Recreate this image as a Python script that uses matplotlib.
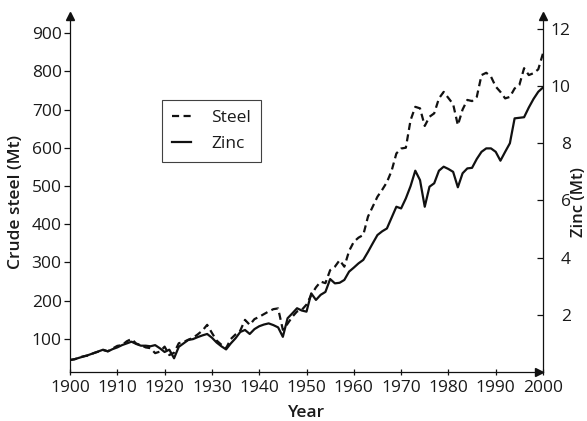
import matplotlib
matplotlib.use("Agg")
import matplotlib.pyplot as plt
from matplotlib import transforms

# World production, 1900-2000
years = list(range(1900, 2001))

steel_mt = [
    45, 47, 52, 55, 57, 63, 67, 71, 68, 75,          # 1900-1909
    82, 84, 94, 100, 88, 84, 78, 76, 63, 67,         # 1910-1919
    80, 58, 64, 89, 92, 98, 103, 112, 122, 137,      # 1920-1929
    116, 96, 85, 76, 100, 112, 122, 150, 137, 152,   # 1930-1939
    158, 165, 172, 178, 180, 124, 140, 158, 172, 176,  # 1940-1949
    190, 215, 235, 250, 246, 280, 289, 306, 289, 330,  # 1950-1959
    354, 365, 372, 420, 446, 472, 490, 510, 540, 585,  # 1960-1969
    598, 600, 672, 707, 703, 657, 681, 690, 729, 746,  # 1970-1979
    730, 714, 659, 700, 725, 722, 733, 790, 796, 786,  # 1980-1989
    760, 746, 729, 733, 755, 764, 808, 790, 795, 805,  # 1990-1999
    847,                                               # 2000
]

zinc_mt = [
    0.42, 0.45, 0.50, 0.55, 0.60, 0.66, 0.72, 0.78, 0.72, 0.80,   # 1900-1909
    0.86, 0.94, 1.00, 1.06, 0.98, 0.92, 0.92, 0.90, 0.94, 0.83,   # 1910-1919
    0.70, 0.78, 0.48, 0.88, 1.00, 1.12, 1.15, 1.22, 1.28, 1.33,   # 1920-1929
    1.20, 1.03, 0.90, 0.79, 1.00, 1.18, 1.40, 1.47, 1.33, 1.50,   # 1930-1939
    1.60, 1.66, 1.70, 1.64, 1.56, 1.23, 1.88, 2.05, 2.23, 2.15,   # 1940-1949
    2.11, 2.75, 2.52, 2.70, 2.80, 3.25, 3.10, 3.12, 3.22, 3.51,   # 1950-1959
    3.65, 3.80, 3.92, 4.20, 4.50, 4.79, 4.92, 5.02, 5.40, 5.78,   # 1960-1969
    5.72, 6.07, 6.50, 7.04, 6.71, 5.78, 6.48, 6.60, 7.04, 7.18,   # 1970-1979
    7.10, 7.00, 6.46, 6.95, 7.12, 7.14, 7.45, 7.70, 7.82, 7.82,   # 1980-1989
    7.70, 7.39, 7.70, 8.00, 8.87, 8.89, 8.91, 9.25, 9.55, 9.80,   # 1990-1999
    9.95,                                                          # 2000
]

year_ticks = list(range(1900, 2001, 10))
steel_ticks = [100, 200, 300, 400, 500, 600, 700, 800, 900]
zinc_ticks = [2, 4, 6, 8, 10, 12]

plt.rcParams["font.family"] = ["Open Sans", "DejaVu Sans"]
INK = "#111111"
TXT = "#1a1a1a"

fig = plt.figure(figsize=(5.87, 4.21), dpi=100)
W, H = 587, 421
x0, x1, y_bot, y_top = 70, 543, 372, 20
ax = fig.add_axes([x0 / W, 1 - y_bot / H, (x1 - x0) / W, (y_bot - y_top) / H])
ax2 = ax.twinx()

lw = 1.6
l_steel, = ax.plot(years, steel_mt, color=INK, lw=lw, dashes=(3.2, 2.0),
                   label="Steel")
l_zinc, = ax2.plot(years, zinc_mt, color=INK, lw=lw, label="Zinc")

ax.set_xlim(1900, 2000)
ax.set_ylim(13.7, 934)
ax2.set_ylim(0, 12.31)

ax.set_xticks(year_ticks)
ax.set_yticks(steel_ticks)
ax2.set_yticks(zinc_ticks)

fs = 12.5
ax.tick_params(axis="x", direction="inout", length=5, width=0.9, colors=INK,
               labelsize=fs, labelcolor=TXT, pad=3)
ax.tick_params(axis="y", direction="out", length=4, width=0.9, colors=INK,
               labelsize=fs, labelcolor=TXT, pad=2)
ax2.tick_params(axis="y", direction="in", length=4, width=0.9, colors=INK,
                labelsize=fs, labelcolor=TXT, pad=20)
for t in ax2.get_yticklabels():
    t.set_horizontalalignment("right")

for a in (ax, ax2):
    for s in a.spines.values():
        s.set_linewidth(0.9)
        s.set_color(INK)
ax.spines["top"].set_visible(False)
ax.spines["right"].set_visible(False)
ax2.spines["top"].set_visible(False)
ax2.spines["left"].set_visible(False)
ax2.spines["bottom"].set_visible(False)

# arrow heads on the axis lines
up = transforms.offset_copy(ax.transAxes, fig=fig, y=4, units="dots")
ax.plot([0, 1], [1, 1], ls="none", marker="^", ms=6, color=INK,
        transform=up, clip_on=False)
right = transforms.offset_copy(ax.transAxes, fig=fig, x=-4, units="dots")
ax.plot([1], [0], ls="none", marker=">", ms=6, color=INK,
        transform=right, clip_on=False)

fig.text(8 / W, 1 - 202 / H, "Crude steel (Mt)", rotation=90, ha="left",
         va="center", fontsize=fs, fontweight="semibold", color=TXT)
fig.text(571 / W, 1 - 202 / H, "Zinc (Mt)", rotation=90, ha="left",
         va="center", fontsize=12, fontweight="semibold", color=TXT)
fig.text(307 / W, 1 - 417 / H, "Year", ha="center", va="baseline",
         fontsize=fs, fontweight="semibold", color=TXT)

leg = ax.legend(handles=[l_steel, l_zinc], loc="upper left",
                bbox_to_anchor=(162 / W, 1 - 100 / H),
                bbox_transform=fig.transFigure, borderaxespad=0,
                fontsize=fs, frameon=True, fancybox=False,
                handlelength=1.1, handletextpad=1.2, labelspacing=0.6,
                borderpad=0.55)
leg.get_frame().set_edgecolor(INK)
leg.get_frame().set_linewidth(0.8)
for t in leg.get_texts():
    t.set_color(TXT)

fig.savefig("out.png", dpi=100)
